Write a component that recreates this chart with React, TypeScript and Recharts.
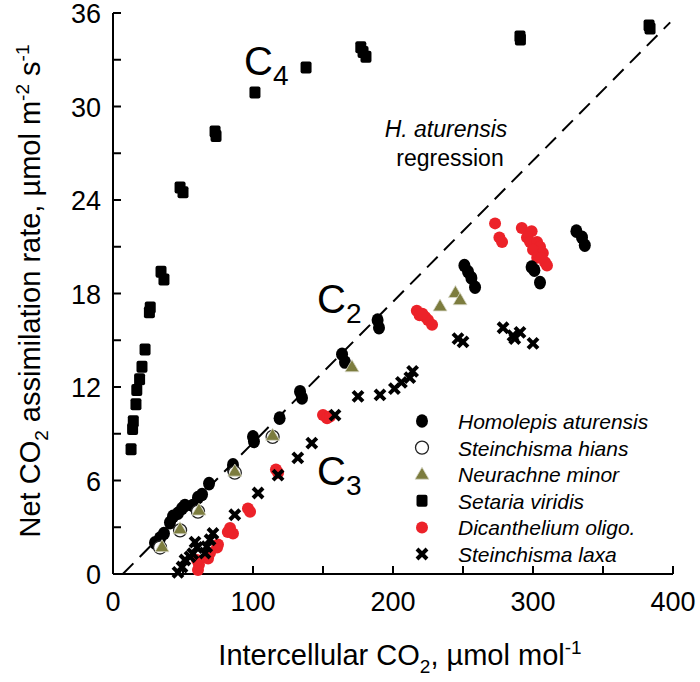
import React from 'react';
import { ScatterChart, Scatter, XAxis, YAxis, ReferenceLine } from 'recharts';

const FONT = '"Liberation Sans", Arial, Helvetica, sans-serif';

// ---- data: [Ci, A] ----
const homolepis: number[][] = [
  [30, 2.0], [33.6, 2.3], [36.4, 2.6], [40.7, 3.3], [42.9, 3.7], [46.4, 3.9], [49.3, 4.2], [51.4, 4.4],
  [57, 4.4], [60.7, 4.9], [63.6, 5.1], [68.6, 5.8], [85.7, 7.0], [85.7, 6.7], [100, 8.8], [100.7, 8.5],
  [119, 10.0], [133.6, 11.7], [135, 11.3], [163.6, 14.1], [165.7, 13.6], [189, 16.3], [190, 15.8],
  [251, 19.8], [253.6, 19.4], [256, 19.0], [258.6, 18.4], [299, 19.7], [301, 19.5], [305, 18.7],
  [331, 22.0], [335, 21.6], [337, 21.1],
];
const hians: number[][] = [[33.6, 1.7], [47.9, 2.8], [60.7, 4.0], [87, 6.5], [114, 8.8]];
const neurachne: number[][] = [
  [35, 1.75], [47.9, 2.9], [61.4, 4.1], [87, 6.6], [114, 8.9], [170.7, 13.3], [233.6, 17.2], [244.6, 18.06], [247.9, 17.6],
];
const setaria: number[][] = [
  [12.9, 8.0], [14, 9.3], [14.5, 9.8], [16.4, 10.9], [17, 11.8], [19, 12.5], [20.7, 13.3], [22.9, 14.4],
  [26, 16.8], [26.6, 17.1], [34.3, 19.4], [36.4, 18.9], [47.9, 24.8], [50, 24.5], [72.9, 28.4], [73.6, 28.1],
  [101.4, 30.9], [137.9, 32.5], [177, 33.8], [178.6, 33.5], [180.7, 33.2], [290.7, 34.5], [291, 34.3],
  [382.9, 35.2], [383.6, 35.0],
];
const dicanthelium: number[][] = [
  [60.7, 0.25], [61.4, 0.6], [60, 0.9], [67.9, 1.0], [69.3, 1.35], [74.3, 1.7], [75, 1.9], [83.6, 2.95],
  [85.7, 2.6], [82, 2.7], [96.4, 4.2], [97.9, 4.0], [116.4, 6.7], [117.9, 6.5], [150, 10.2], [152.9, 10.0],
  [155, 10.1], [217, 16.9], [219, 16.6], [223, 16.5], [225, 16.3], [227.9, 16.0], [221, 16.7],
  [272.9, 22.5], [276, 21.6], [277.9, 21.3], [292, 22.2], [299, 22.0], [295.7, 21.6], [297.9, 21.3],
  [302.9, 21.3], [305, 21.0], [300, 20.8], [307, 20.6], [303, 20.3], [308.6, 20.0], [310, 19.8], [306, 20.3],
];
const laxa: number[][] = [
  [46.4, 0.1], [49.3, 0.45], [51.4, 0.9], [55, 1.1], [57, 1.3], [60, 1.7], [58.6, 2.05], [65.7, 1.35],
  [67, 1.75], [69.3, 2.2], [71.4, 2.6], [87, 3.8], [103.6, 5.2], [117.9, 6.35], [132, 7.45], [142, 8.4],
  [158.6, 10.2], [175, 11.4], [190.7, 11.5], [201, 11.9], [206, 12.3], [212, 12.6], [214, 13.0],
  [246.4, 15.1], [250, 14.9], [278.6, 15.8], [285.7, 15.3], [290.7, 15.5], [287, 15.1], [300, 14.8],
];
const regressionLine = [{ x: 7, y: 0 }, { x: 398, y: 35.4 }];

const xTicks = [0, 50, 100, 150, 200, 250, 300, 350, 400];
const yTicks = [0, 3, 6, 9, 12, 15, 18, 21, 24, 27, 30, 33, 36];
const legendNames = [
  'Homolepis aturensis',
  'Steinchisma hians',
  'Neurachne minor',
  'Setaria viridis',
  'Dicanthelium oligo.',
  'Steinchisma laxa',
];

const toPts = (a: number[][]) => a.map(([x, y]) => ({ x, y }));

const RED = '#ec2229';
const OLIVE = '#7c7c3e';

// ---- marker shapes ----
const Dot = (p: any) => <ellipse cx={p.cx} cy={p.cy} rx={6} ry={6.8} fill="#000" />;
const OpenDot = (p: any) => <circle cx={p.cx} cy={p.cy} r={6.5} fill="#fff" stroke="#222" strokeWidth={1.3} />;
const Tri = (p: any) => (
  <polygon
    points={`${p.cx},${p.cy - 7} ${p.cx - 7},${p.cy + 5} ${p.cx + 7},${p.cy + 5}`}
    fill={OLIVE}
    stroke="#d8d8c8"
    strokeWidth={0.8}
  />
);
const Sq = (p: any) => <rect x={p.cx - 5.5} y={p.cy - 6} width={11} height={12} rx={2} fill="#000" />;
const RedDot = (p: any) => <circle cx={p.cx} cy={p.cy} r={6} fill={RED} />;
const Cross = (p: any) => (
  <path
    d={`M${p.cx - 5},${p.cy - 5}L${p.cx + 5},${p.cy + 5}M${p.cx - 5},${p.cy + 5}L${p.cx + 5},${p.cy - 5}`}
    stroke="#000"
    strokeWidth={4}
  />
);

// ---- axis ticks (inward) ----
const TL = 8;
const BottomTick = (p: any) => (
  <g>
    <line x1={p.x} y1={p.y} x2={p.x} y2={p.y - TL} stroke="#000" strokeWidth={2} />
    {p.payload.value % 100 === 0 && (
      <text x={p.x} y={p.y + 37} textAnchor="middle" fontSize={27} fontFamily={FONT} fill="#000">
        {p.payload.value}
      </text>
    )}
  </g>
);
const TopTick = (p: any) => (
  <line x1={p.x} y1={p.y} x2={p.x} y2={p.y + TL} stroke="#000" strokeWidth={2} />
);
const LeftTick = (p: any) => (
  <g>
    <line x1={p.x} y1={p.y} x2={p.x + TL} y2={p.y} stroke="#000" strokeWidth={2} />
    {p.payload.value % 6 === 0 && (
      <text x={p.x - 12} y={p.y + 10} textAnchor="end" fontSize={27} fontFamily={FONT} fill="#000">
        {p.payload.value}
      </text>
    )}
  </g>
);
const RightTick = (p: any) => (
  <line x1={p.x} y1={p.y} x2={p.x - TL} y2={p.y} stroke="#000" strokeWidth={2} />
);

const legendMarkers = [Dot, OpenDot, Tri, Sq, RedDot, Cross];

export default function App() {
  const axisLine = { stroke: '#000', strokeWidth: 2 };
  return (
    <div style={{ position: 'absolute', left: 0, top: 0, width: 700, height: 682, background: '#fff' }}>
      <ScatterChart width={700} height={682} margin={{ top: 13, right: 27, left: 0, bottom: 0 }}>
        <XAxis
          dataKey="x"
          type="number"
          domain={[0, 400]}
          ticks={xTicks}
          height={108}
          tickSize={0}
          tickMargin={0}
          tickLine={false}
          axisLine={axisLine}
          tick={BottomTick}
          interval={0}
        />
        <XAxis
          xAxisId="top"
          orientation="top"
          type="number"
          domain={[0, 400]}
          ticks={xTicks}
          height={0}
          tickSize={0}
          tickMargin={0}
          tickLine={false}
          axisLine={axisLine}
          tick={TopTick}
          interval={0}
        />
        <YAxis
          dataKey="y"
          type="number"
          domain={[0, 36]}
          ticks={yTicks}
          width={113}
          tickSize={0}
          tickMargin={0}
          tickLine={false}
          axisLine={axisLine}
          tick={LeftTick}
          interval={0}
        />
        <YAxis
          yAxisId="right"
          orientation="right"
          type="number"
          domain={[0, 36]}
          ticks={yTicks}
          width={0}
          tickSize={0}
          tickMargin={0}
          tickLine={false}
          axisLine={axisLine}
          tick={RightTick}
          interval={0}
        />
        <ReferenceLine
          segment={regressionLine}
          stroke="#000"
          strokeWidth={2}
          strokeDasharray="15 9"
        />
        <Scatter name="Setaria viridis" data={toPts(setaria)} shape={Sq} isAnimationActive={false} />
        <Scatter name="Dicanthelium oligo." data={toPts(dicanthelium)} shape={RedDot} isAnimationActive={false} />
        <Scatter name="Steinchisma laxa" data={toPts(laxa)} shape={Cross} isAnimationActive={false} />
        <Scatter name="Homolepis aturensis" data={toPts(homolepis)} shape={Dot} isAnimationActive={false} />
        <Scatter name="Steinchisma hians" data={toPts(hians)} shape={OpenDot} isAnimationActive={false} />
        <Scatter name="Neurachne minor" data={toPts(neurachne)} shape={Tri} isAnimationActive={false} />
      </ScatterChart>
      <svg
        width={700}
        height={682}
        style={{ position: 'absolute', left: 0, top: 0, pointerEvents: 'none' }}
        fontFamily={FONT}
      >
        {/* axis titles */}
        <text x={400} y={665} textAnchor="middle" fontSize={29} fill="#000">
          Intercellular CO<tspan dy={8} fontSize={19}>2</tspan>
          <tspan dy={-8}>, µmol mol</tspan>
          <tspan dy={-11} fontSize={19}>-1</tspan>
        </text>
        <text
          transform="translate(40,291) rotate(-90)"
          textAnchor="middle"
          fontSize={29}
          fill="#000"
        >
          Net CO<tspan dy={8} fontSize={19}>2</tspan>
          <tspan dy={-8}> assimilation rate, µmol m</tspan>
          <tspan dy={-11} fontSize={19}>-2</tspan>
          <tspan dy={11}> s</tspan>
          <tspan dy={-11} fontSize={19}>-1</tspan>
        </text>
        {/* annotations */}
        <text x={244} y={75} fontSize={40} fill="#000">
          C<tspan dy={10} fontSize={28}>4</tspan>
        </text>
        <text x={317} y={313} fontSize={40} fill="#000">
          C<tspan dy={10} fontSize={28}>2</tspan>
        </text>
        <text x={317} y={485} fontSize={40} fill="#000">
          C<tspan dy={10} fontSize={28}>3</tspan>
        </text>
        <text x={446} y={137} textAnchor="middle" fontSize={23} fontStyle="italic" fill="#000">
          H. aturensis
        </text>
        <text x={450} y={166} textAnchor="middle" fontSize={23} fill="#000">
          regression
        </text>
        {/* legend */}
        {legendNames.map((n, i) => {
          const M = legendMarkers[i];
          const cy = 421 + i * 26.6;
          return (
            <g key={n}>
              <M cx={422} cy={cy} />
              <text x={458} y={cy + 8} fontSize={21} fontStyle="italic" fill="#000">
                {n}
              </text>
            </g>
          );
        })}
      </svg>
    </div>
  );
}
